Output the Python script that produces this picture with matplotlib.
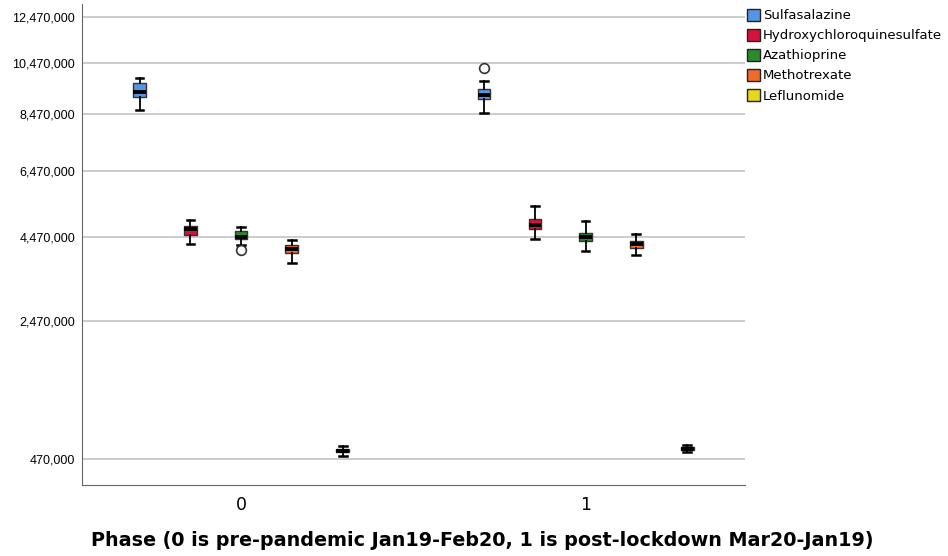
import numpy as np
import matplotlib
matplotlib.use("Agg")
import matplotlib.pyplot as plt
from matplotlib.patches import Patch

plt.rcParams['font.family'] = ['Liberation Sans', 'DejaVu Sans']

drugs = ['Sulfasalazine', 'Hydroxychloroquinesulfate', 'Azathioprine', 'Methotrexate', 'Leflunomide']
colors = ['#5596e4', '#d8103c', '#2b8a2b', '#f06a2c', '#e4d818']
phases = [0, 1]

# box statistics per phase, one value per drug
whislo = [[8620000, 4296000, 4254000, 3804000, 500000],
          [8496000, 4414000, 4095000, 3992000, 531000]]
q1 = [[9118000, 4523000, 4431000, 4043000, 531000],
      [9018000, 4706000, 4369000, 4190000, 550000]]
med = [[9302000, 4689000, 4469000, 4156000, 546000],
       [9185000, 4810000, 4485000, 4288000, 565000]]
q3 = [[9660000, 4790000, 4650000, 4261000, 562000],
      [9432000, 4972000, 4587000, 4377000, 579000]]
whishi = [[9873000, 4943000, 4754000, 4403000, 589000],
          [9752000, 5371000, 4915000, 4551000, 602000]]
outliers = [[[], [], [4121000], [], []],
            [[10257000], [], [], [], []]]

yticks = [470000, 2470000, 4470000, 6470000, 8470000, 10470000, 12470000]
offsets = [-0.295, -0.147, 0.0, 0.147, 0.295]

fig = plt.figure(figsize=(9.48, 5.56), dpi=100)
ax = fig.add_axes([82/948, 71/556, 663/948, 481/556])
# y axis is square-root scaled
ax.set_yscale('function', functions=(lambda v: np.sqrt(np.clip(v, 0, None)), np.square))

for p, ph in enumerate(phases):
    for d in range(len(drugs)):
        st = dict(whislo=whislo[p][d], q1=q1[p][d], med=med[p][d], q3=q3[p][d],
                  whishi=whishi[p][d], fliers=outliers[p][d])
        ax.bxp([st], positions=[ph + offsets[d]], widths=0.037, patch_artist=True,
               showfliers=True, manage_ticks=False,
               boxprops=dict(facecolor=colors[d], edgecolor='#333333', linewidth=1),
               medianprops=dict(color='black', linewidth=2.8),
               whiskerprops=dict(color='black', linewidth=1.3),
               capprops=dict(color='black', linewidth=1.8),
               capwidths=0.022,
               flierprops=dict(marker='o', markerfacecolor='white',
                               markeredgecolor='#333333', markersize=7, markeredgewidth=1.2))

ax.set_ylim(268000, 13080000)
ax.set_xlim(-0.462, 1.463)
ax.set_yticks(yticks)
ax.set_yticklabels([f'{t:,}' for t in yticks], fontsize=9)
ax.yaxis.set_minor_locator(matplotlib.ticker.NullLocator())
ax.set_xticks(phases)
ax.set_xticklabels([str(p) for p in phases], fontsize=12.5, family=['DejaVu Sans'])
ax.tick_params(axis='y', length=0, pad=5)
ax.tick_params(axis='x', length=0, pad=8)
ax.grid(axis='y', color='#c8c8c8', linewidth=1.3)
ax.set_axisbelow(True)
for s in ['top', 'right']:
    ax.spines[s].set_visible(False)
for s in ['left', 'bottom']:
    ax.spines[s].set_color('#666666')

fig.text(482/948, 1 - 541/556, 'Phase (0 is pre-pandemic Jan19-Feb20, 1 is post-lockdown Mar20-Jan19)',
         ha='center', va='center', fontsize=13.8, fontweight='bold', family=['DejaVu Sans'])

handles = [Patch(facecolor=c, edgecolor='#222222', linewidth=1) for c in colors]
fig.legend(handles, drugs, loc='upper left', bbox_to_anchor=(747/948, 1 - 9/556),
           frameon=False, prop={'family': 'DejaVu Sans', 'size': 9.5},
           handlelength=1.0, handleheight=1.0,
           handletextpad=0.2, labelspacing=0.5, borderpad=0, borderaxespad=0)

fig.savefig('out.png', dpi=100)
